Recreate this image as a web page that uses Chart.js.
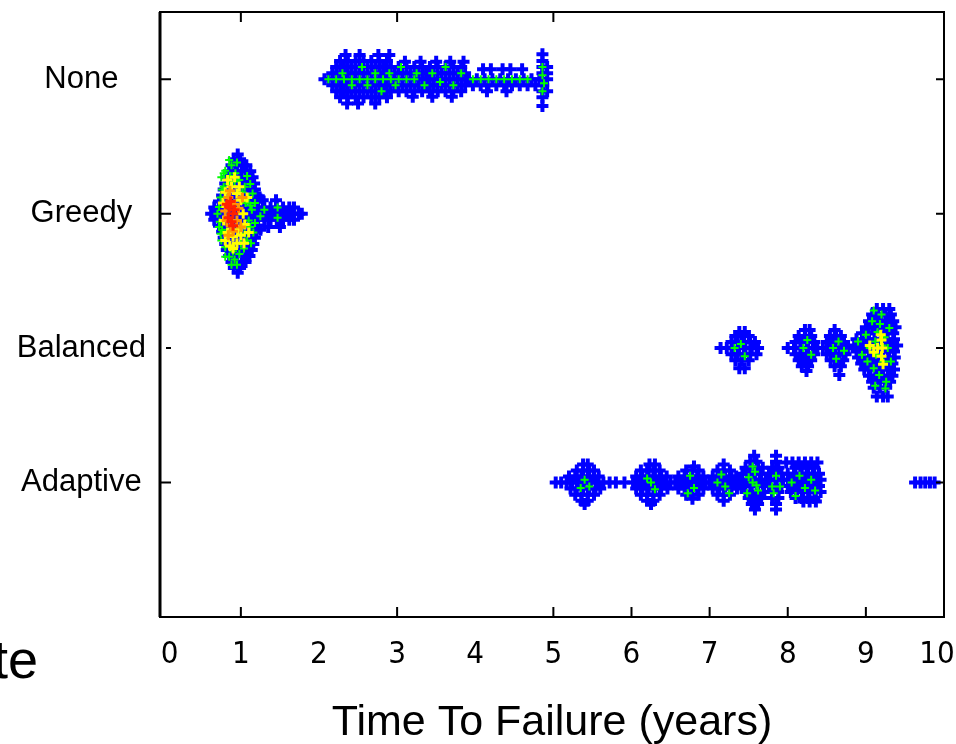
<!DOCTYPE html>
<html><head><meta charset="utf-8">
<script src="https://cdn.jsdelivr.net/npm/chart.js@4/dist/chart.umd.min.js"></script>
<style>html,body{margin:0;padding:0;background:#fff;overflow:hidden}</style>
</head><body>
<canvas id="c" width="956" height="744"></canvas>
<script>
// ---- categories & ticks ----
const categories = ['None', 'Greedy', 'Balanced', 'Adaptive'];
const xTickValues = [0, 1, 2, 3, 4, 5, 6, 7, 8, 9, 10];
const xTickLabels = ['\u20020', '1', '2', '3', '4', '5', '6', '7', '8', '9', '10\u2002'];
const topTickValues = [1, 3, 5];
const bottomTickValues = [1, 3, 5, 6, 7, 8, 9];
const xTitle = 'Time To Failure (years)';

// ---- samples: rows of [yOffset, x, x, ...] (blue = single hits) ----
const noneBlue = [
  [-0.185, 4.86],
  [-0.18, 2.34, 2.52, 2.76, 2.9],
  [-0.135, 2.27, 2.37, 2.47, 2.57, 2.67, 2.77, 2.87, 4.86],
  [-0.13, 3.1, 3.3, 3.5, 3.68, 3.85],
  [-0.09, 2.22, 2.32, 2.42, 2.52, 2.62, 2.72, 2.82, 2.92, 3.02, 3.12, 3.22, 3.32, 3.42, 3.52, 3.62, 3.72, 3.82, 4.86, 4.92],
  [-0.075, 4.1, 4.2, 4.35, 4.45, 4.6],
  [-0.045, 2.17, 2.27, 2.37, 2.47, 2.57, 2.67, 2.77, 2.87, 2.97, 3.07, 3.17, 3.27, 3.37, 3.47, 3.57, 3.67, 3.77, 3.87, 4.86, 4.92],
  [0, 2.07, 2.12, 2.22, 2.32, 2.42, 2.52, 2.62, 2.72, 2.82, 2.92, 3.02, 3.12, 3.22, 3.32, 3.42, 3.52, 3.62, 3.72, 3.82, 3.92, 4.02, 4.12, 4.22, 4.32, 4.42, 4.52, 4.62, 4.72, 4.82, 4.92],
  [0.045, 2.17, 2.27, 2.37, 2.47, 2.57, 2.67, 2.77, 2.87, 2.97, 3.07, 3.17, 3.27, 3.37, 3.47, 3.57, 3.67, 3.77, 3.87, 3.97, 4.07, 4.17, 4.27, 4.37, 4.47, 4.57, 4.67, 4.77, 4.87],
  [0.09, 2.22, 2.32, 2.42, 2.52, 2.62, 2.72, 2.82, 2.92, 3.02, 3.12, 3.22, 3.32, 3.42, 3.52, 3.62, 3.72, 3.82, 4.15, 4.4, 4.86, 4.92],
  [0.13, 3.2, 3.45, 3.7],
  [0.135, 2.27, 2.37, 2.47, 2.57, 2.67, 2.77, 2.87, 4.86],
  [0.18, 2.36, 2.5, 2.72],
  [0.2, 4.86]
];
const greedyBlue = [
  [-0.44, 0.96],
  [-0.405, 0.91, 0.99],
  [-0.36, 0.88, 0.95, 1.03, 1.07],
  [-0.315, 0.85, 0.93, 1.01, 1.07, 1.12],
  [-0.27, 0.82, 0.9, 0.98, 1.06, 1.1, 1.15],
  [-0.225, 0.8, 0.87, 0.95, 1.03, 1.1, 1.17],
  [-0.18, 0.78, 0.85, 0.93, 1.01, 1.09, 1.12, 1.18],
  [-0.135, 0.76, 0.83, 0.91, 0.99, 1.07, 1.14, 1.2],
  [-0.12, 1.24],
  [-0.1, 1.28, 1.45],
  [-0.09, 0.72, 0.8, 0.88, 0.96, 1.04, 1.12, 1.17, 1.22],
  [-0.045, 0.66, 0.74, 0.82, 0.9, 0.98, 1.06, 1.14, 1.22, 1.3, 1.38, 1.46, 1.54, 1.62, 1.68],
  [0, 0.62, 0.7, 0.78, 0.86, 0.94, 1.02, 1.1, 1.18, 1.26, 1.34, 1.42, 1.5, 1.58, 1.66, 1.74, 1.78],
  [0.045, 0.66, 0.74, 0.82, 0.9, 0.98, 1.06, 1.14, 1.22, 1.3, 1.38, 1.46, 1.54, 1.62, 1.68],
  [0.09, 0.72, 0.8, 0.88, 0.96, 1.04, 1.12, 1.17, 1.22],
  [0.1, 1.35, 1.5],
  [0.12, 1.25],
  [0.135, 0.76, 0.83, 0.91, 0.99, 1.07, 1.14, 1.2],
  [0.18, 0.78, 0.85, 0.93, 1.01, 1.09, 1.12, 1.18],
  [0.225, 0.8, 0.87, 0.95, 1.03, 1.1, 1.16],
  [0.27, 0.82, 0.9, 0.98, 1.06, 1.1, 1.14],
  [0.315, 0.85, 0.93, 1.01, 1.07, 1.11],
  [0.36, 0.88, 0.95, 1.03, 1.06],
  [0.405, 0.91, 0.99],
  [0.44, 0.96]
];
const balancedBlue = [
  [-0.12, 7.38, 7.45],
  [-0.09, 7.33, 7.41, 7.5],
  [-0.045, 7.28, 7.36, 7.44, 7.52, 7.58],
  [0, 7.14, 7.22, 7.3, 7.38, 7.46, 7.54, 7.62],
  [0.045, 7.28, 7.36, 7.44, 7.52, 7.6],
  [0.09, 7.33, 7.41, 7.5],
  [0.15, 7.38, 7.45],
  [-0.135, 8.22, 8.28],
  [-0.09, 8.14, 8.22, 8.3],
  [-0.045, 8.1, 8.18, 8.26, 8.34],
  [0, 8.0, 8.08, 8.16, 8.24, 8.32, 8.38],
  [0.045, 8.1, 8.18, 8.26, 8.34],
  [0.09, 8.14, 8.22, 8.3],
  [0.135, 8.18, 8.26],
  [0.17, 8.24],
  [-0.135, 8.6],
  [-0.09, 8.54, 8.62, 8.68],
  [-0.045, 8.5, 8.58, 8.66, 8.72],
  [0, 8.45, 8.53, 8.61, 8.69, 8.77],
  [0.045, 8.5, 8.58, 8.66, 8.74],
  [0.09, 8.55, 8.63, 8.71],
  [0.135, 8.6, 8.68],
  [0.2, 8.66],
  [-0.29, 9.14, 9.22, 9.3],
  [-0.25, 9.08, 9.16, 9.25, 9.32],
  [-0.2, 9.04, 9.12, 9.2, 9.28, 9.35],
  [-0.155, 9.0, 9.08, 9.16, 9.24, 9.32, 9.38],
  [-0.11, 8.95, 9.03, 9.11, 9.19, 9.27, 9.35],
  [-0.065, 8.88, 8.96, 9.04, 9.12, 9.2, 9.28, 9.36],
  [-0.02, 8.85, 8.92, 9.0, 9.08, 9.16, 9.24, 9.32, 9.4],
  [0.025, 8.88, 8.96, 9.04, 9.12, 9.2, 9.28, 9.36],
  [0.07, 8.9, 8.98, 9.06, 9.14, 9.22, 9.3, 9.37],
  [0.115, 8.94, 9.02, 9.1, 9.18, 9.26, 9.34],
  [0.16, 8.98, 9.06, 9.14, 9.22, 9.3, 9.36],
  [0.205, 9.04, 9.12, 9.2, 9.28, 9.34],
  [0.25, 9.08, 9.16, 9.24, 9.31],
  [0.295, 9.1, 9.18, 9.26],
  [0.36, 9.14, 9.22, 9.28]
];
const adaptiveBlue = [
  [0, 5.03, 5.1],
  [-0.135, 5.38, 5.44],
  [-0.09, 5.3, 5.38, 5.46, 5.52],
  [-0.045, 5.2, 5.28, 5.36, 5.44, 5.52, 5.58],
  [0, 5.17, 5.24, 5.32, 5.4, 5.48, 5.56, 5.64, 5.72, 5.8, 5.91],
  [0.045, 5.22, 5.3, 5.38, 5.46, 5.54, 5.6],
  [0.09, 5.28, 5.36, 5.44, 5.52],
  [0.135, 5.36, 5.44],
  [0.16, 5.4],
  [-0.135, 6.23, 6.3],
  [-0.09, 6.12, 6.2, 6.28, 6.36],
  [-0.045, 6.06, 6.14, 6.22, 6.3, 6.38, 6.45],
  [0, 6.02, 6.1, 6.18, 6.26, 6.34, 6.42, 6.5],
  [0.045, 6.06, 6.14, 6.22, 6.3, 6.38, 6.46],
  [0.09, 6.12, 6.2, 6.28, 6.36],
  [0.135, 6.2, 6.28],
  [0.16, 6.25],
  [-0.12, 6.8],
  [-0.09, 6.7, 6.78, 6.86],
  [-0.045, 6.6, 6.68, 6.76, 6.84, 6.92],
  [0, 6.56, 6.64, 6.72, 6.8, 6.88, 6.95],
  [0.045, 6.6, 6.68, 6.76, 6.84, 6.92],
  [0.09, 6.7, 6.78, 6.86],
  [0.12, 6.78],
  [-0.135, 7.18],
  [-0.09, 7.1, 7.18, 7.26],
  [-0.045, 7.04, 7.12, 7.2, 7.28, 7.34],
  [0, 7.0, 7.08, 7.16, 7.24, 7.32],
  [0.045, 7.04, 7.12, 7.2, 7.28, 7.35],
  [0.09, 7.1, 7.18, 7.26],
  [0.135, 7.18],
  [-0.2, 7.57],
  [-0.155, 7.52, 7.6],
  [-0.11, 7.46, 7.54, 7.62, 7.68],
  [-0.065, 7.42, 7.5, 7.58, 7.66],
  [-0.02, 7.4, 7.48, 7.56, 7.64, 7.72],
  [0.025, 7.44, 7.52, 7.6, 7.68],
  [0.07, 7.46, 7.54, 7.62, 7.7],
  [0.115, 7.5, 7.58, 7.66],
  [0.16, 7.54, 7.62],
  [0.2, 7.58],
  [-0.2, 7.85],
  [-0.155, 7.85],
  [-0.11, 7.8, 7.88],
  [-0.065, 7.76, 7.84, 7.92],
  [-0.02, 7.78, 7.86, 7.94],
  [0.025, 7.76, 7.84, 7.92],
  [0.07, 7.8, 7.88],
  [0.115, 7.8, 7.88],
  [0.16, 7.85],
  [0.2, 7.85],
  [-0.15, 7.98, 8.06, 8.14, 8.22, 8.3, 8.38],
  [-0.11, 8.1, 8.18, 8.26, 8.34],
  [-0.065, 8.0, 8.08, 8.16, 8.24, 8.32, 8.4],
  [-0.02, 8.04, 8.12, 8.2, 8.28, 8.36, 8.42],
  [0.025, 8.0, 8.08, 8.16, 8.24, 8.32, 8.4],
  [0.07, 8.04, 8.12, 8.2, 8.28, 8.36, 8.42],
  [0.115, 8.1, 8.18, 8.26, 8.34],
  [0.14, 8.2, 8.28, 8.36],
  [0, 9.63, 9.7, 9.76, 9.82, 9.88]
];

// ---- overlapping samples (density colours): [x, yOffset] ----
const noneGreen = [[2.12,0],[2.22,0],[2.32,0],[2.42,0],[2.52,0],[2.62,0],[2.72,0],[2.82,0],[2.92,0],[3.02,0],[3.12,0],[3.22,0],
  [3.97,0],[4.07,0],[4.17,0],[4.27,0],[4.37,0],[4.47,0],[4.57,0],[4.67,0],
  [2.3,-0.045],[2.42,0.045],[2.55,-0.09],[2.62,0.045],[2.72,-0.045],[2.8,0.09],[2.9,-0.045],[2.98,0.045],[3.05,-0.09],
  [3.25,-0.045],[3.35,0.045],[3.45,-0.045],[3.55,0.02],[3.62,-0.09],[3.72,0.045],[3.82,-0.045],
  [4.86,-0.09],[4.86,-0.03],[4.88,0.03],[4.86,0.09]];
const greedyGreen = [[0.75,-0.27],[0.8,-0.32],[0.88,-0.36],[0.93,-0.3],[0.98,-0.25],[0.78,-0.2],[0.85,-0.22],[1.05,-0.2],
  [0.74,-0.12],[1.1,-0.12],[0.72,-0.05],[0.7,0],[0.73,0.06],[1.1,0.05],[1.14,-0.03],[0.76,0.12],[0.75,0.2],[1.05,0.15],
  [0.8,0.25],[0.9,0.28],[0.85,0.32],[0.98,0.3],[1.0,0.22],[0.88,0.38],[1.47,-0.045],[1.47,0.03],[1.12,0.1],[0.95,-0.38],[1.08,-0.28],
  [0.78,-0.3],[0.86,-0.28],[0.92,-0.24],[1.02,-0.16],[1.06,-0.08],[0.74,0.15],[0.8,0.32],[0.92,0.34],[1.04,0.26],[1.08,0.2],
  [0.76,-0.18],[0.72,0.1],[0.95,0.38],[0.85,-0.4],[1.12,-0.06],[1.25,0.02],[1.3,-0.03],
  [1.12,-0.22],[1.15,-0.15],[1.16,0.14],[1.13,0.22],[1.18,-0.08],[1.18,0.07]];
const greedyYellow = [[0.8,-0.16],[0.88,-0.2],[0.95,-0.15],[1.0,-0.1],[0.77,-0.08],[1.03,0],[0.78,0.05],[0.83,0.14],
  [0.9,0.17],[0.96,0.12],[0.86,0.24],[0.95,0.22],[0.83,-0.25],[1.05,0.08],[0.92,-0.27],[0.8,0.2],[0.9,0.26],[1.0,0.16],[0.98,-0.2],
  [1.08,-0.12],[1.1,0.14],[1.04,0.22]];
const greedyOrange = [[0.84,-0.12],[0.92,-0.07],[0.8,-0.02],[0.87,0.09],[0.95,0.05],[0.9,0.13],[0.82,0.05],[0.86,-0.17],[0.97,-0.04],[0.84,0.16],
  [1.0,0.1],[1.02,-0.12]];
const greedyRed = [[0.85,-0.05],[0.9,0],[0.84,0.03],[0.92,-0.03],[0.88,0.06],[0.87,-0.09],[0.82,-0.07],[0.9,0.09]];
const balancedGreen = [[7.32,0],[7.4,-0.03],[7.45,0.06],[8.2,0],[8.25,-0.06],[8.3,0.05],[8.58,0],[8.65,-0.05],[8.62,0.08],[8.72,0.02],
  [8.9,-0.05],[8.95,0.05],[9.0,-0.1],[9.02,0.1],[9.05,0],[9.08,-0.2],[9.1,0.15],[9.12,-0.05],[9.13,0.05],[9.15,-0.12],
  [9.17,0.2],[9.2,-0.25],[9.22,0.1],[9.24,-0.08],[9.26,0.25],[9.28,0],[9.3,-0.15],[9.25,0.3],[9.12,0.28],[9.18,-0.18],
  [9.21,-0.02],[9.1,-0.28],[9.32,0.1]];
const balancedYellow = [[9.2,-0.06],[9.21,0],[9.2,0.06],[9.22,0.12],[9.05,-0.02],[9.1,0.03],[9.15,0],[9.19,-0.1]];
const adaptiveGreen = [[5.4,-0.02],[5.46,0.03],[5.35,0.04],[6.25,0],[6.3,0.05],[6.2,-0.03],[6.75,-0.05],[6.8,0.04],[6.72,0.08],
  [7.15,-0.06],[7.2,0.03],[7.25,0.08],[7.1,0],[7.5,-0.04],[7.55,0],[7.6,0.02],[7.58,-0.08],[7.62,0.06],[7.48,0.08],[7.55,-0.12],
  [7.8,0.03],[7.85,-0.05],[7.9,0.03],[7.82,0.08],[8.05,0],[8.15,-0.05],[8.22,0.04],[8.3,-0.02],[8.35,0.06],[8.1,0.1]];

// ---- build point tables ----
function fromRows(cat, rows) {
  const out = [];
  rows.forEach(r => { for (let i = 1; i < r.length; i++) out.push({x: r[i], y: cat + r[0]}); });
  return out;
}
function fromPairs(cat, pairs) { return pairs.map(p => ({x: p[0], y: cat + p[1]})); }

const blue = [].concat(fromRows(0, noneBlue), fromRows(1, greedyBlue), fromRows(2, balancedBlue), fromRows(3, adaptiveBlue));
const green = [].concat(fromPairs(0, noneGreen), fromPairs(1, greedyGreen), fromPairs(2, balancedGreen), fromPairs(3, adaptiveGreen));
const yellow = [].concat(fromPairs(1, greedyYellow), fromPairs(2, balancedYellow));
const orange = fromPairs(1, greedyOrange);
const red = fromPairs(1, greedyRed);

function ds(data, color, r, w, order) {
  return {data, order, pointStyle: 'cross', pointRadius: r, pointHoverRadius: r,
    borderColor: color, backgroundColor: color, pointBorderWidth: w, borderWidth: w, showLine: false};
}

const frame = {
  id: 'frame',
  afterDatasetsDraw(chart) {
    const {ctx, chartArea: a, scales: {x, y}} = chart;
    ctx.save();
    ctx.strokeStyle = '#000';
    ctx.lineWidth = 2;
    ctx.strokeRect(a.left, a.top, a.right - a.left, a.bottom - a.top);
    ctx.lineWidth = 3;
    ctx.beginPath(); ctx.moveTo(a.left, a.top); ctx.lineTo(a.left, a.bottom); ctx.stroke();
    ctx.lineWidth = 2;
    ctx.beginPath();
    [0, 1, 2, 3].forEach(v => {
      const py = y.getPixelForValue(v);
      ctx.moveTo(v === 2 ? a.left + 6 : a.left, py); ctx.lineTo(a.left + 11, py);
      ctx.moveTo(a.right, py); ctx.lineTo(a.right - 8, py);
    });
    topTickValues.forEach(v => { const px = x.getPixelForValue(v); ctx.moveTo(px, a.top); ctx.lineTo(px, a.top + 10); });
    bottomTickValues.forEach(v => { const px = x.getPixelForValue(v); ctx.moveTo(px, a.bottom); ctx.lineTo(px, a.bottom - 10); });
    ctx.stroke();
    ctx.restore();
  },
  afterDraw(chart) {
    const ctx = chart.ctx;
    ctx.save();
    ctx.fillStyle = '#000';
    ctx.font = '54px "Liberation Sans", Arial, sans-serif';
    ctx.textAlign = 'right';
    ctx.textBaseline = 'alphabetic';
    ctx.fillText('te', 38, 678);
    ctx.restore();
  }
};

function noPad(s) { s.paddingTop = 0; s.paddingBottom = 0; s.paddingLeft = 0; s.paddingRight = 0; }

new Chart(document.getElementById('c'), {
  type: 'scatter',
  data: {datasets: [
    ds(red, '#ff2000', 5, 3, 0),
    ds(orange, '#ff9900', 5, 3, 1),
    ds(yellow, '#ffff00', 5, 3, 2),
    ds(green, '#00ff00', 4, 2, 3),
    ds(blue, '#0000ff', 6, 4, 4)
  ]},
  options: {
    responsive: false,
    animation: false,
    events: [],
    layout: {padding: {left: 0, top: 12, right: 12, bottom: 0}},
    plugins: {legend: {display: false}, tooltip: {enabled: false}},
    scales: {
      x: {
        type: 'linear', min: -0.035, max: 10,
        afterBuildTicks: s => { s.ticks = xTickValues.map(v => ({value: v})); },
        afterFit: s => { s.height = 127; noPad(s); },
        grid: {display: false, drawTicks: false},
        border: {display: false},
        ticks: {color: '#000', padding: 19, maxRotation: 0, autoSkip: false,
          callback: (v, i) => xTickLabels[i],
          font: {family: '"Liberation Sans Narrow", "DejaVu Sans Condensed", "Liberation Sans", sans-serif', size: 31}},
        title: {display: true, text: xTitle, color: '#000', padding: {top: 0, bottom: -3},
          font: {family: '"Liberation Sans", Arial, sans-serif', size: 43, lineHeight: 1.1}}
      },
      y: {
        type: 'linear', min: -0.5, max: 4, reverse: true,
        afterBuildTicks: s => { s.ticks = [0, 1, 2, 3].map(v => ({value: v})); },
        afterFit: s => { s.width = 160; noPad(s); },
        grid: {display: false, drawTicks: false},
        border: {display: false},
        ticks: {color: '#000', padding: 14, crossAlign: 'center', autoSkip: false,
          callback: v => categories[v],
          font: {family: '"Liberation Sans", Arial, sans-serif', size: 31}}
      }
    }
  },
  plugins: [frame]
});
</script>
</body></html>
